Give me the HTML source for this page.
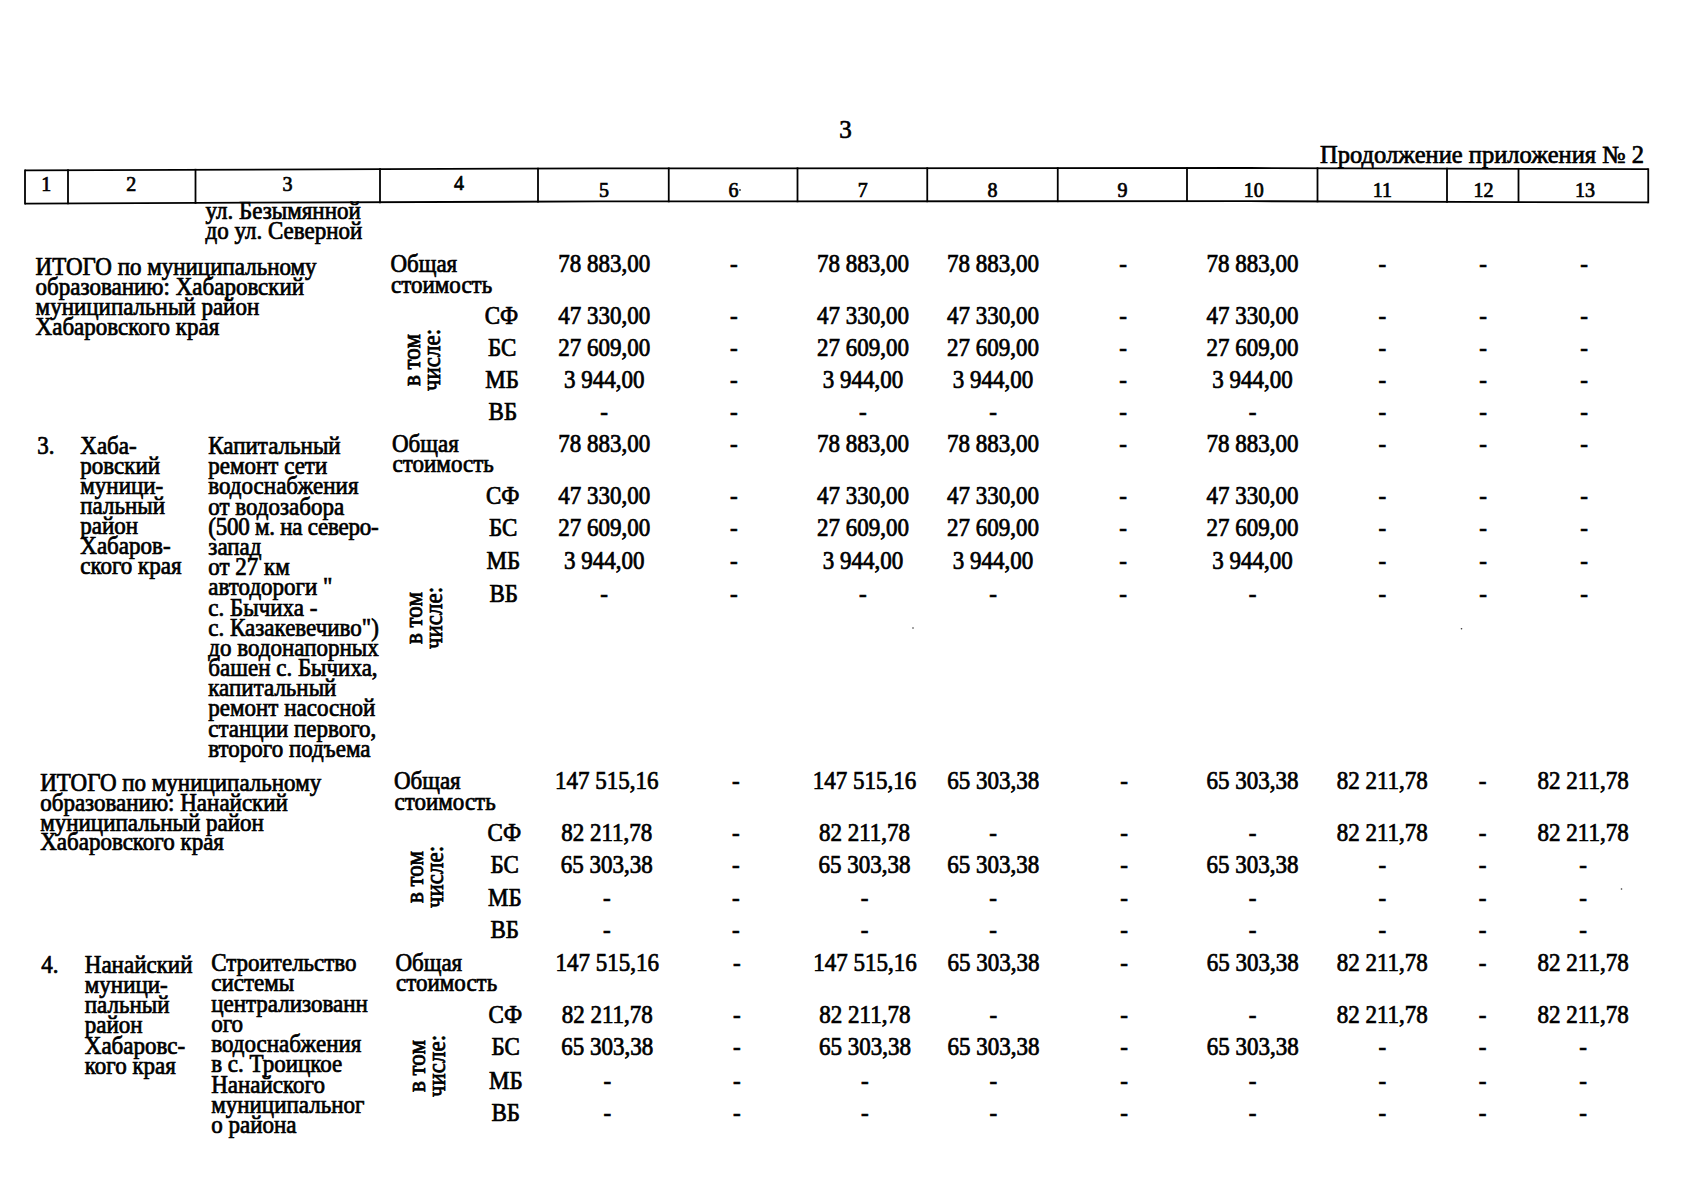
<!DOCTYPE html>
<html><head><meta charset="utf-8"><title>Продолжение приложения № 2</title><style>
html,body{margin:0;padding:0;background:#fff;}
body{width:1704px;height:1200px;position:relative;overflow:hidden;}
.t{position:absolute;font-family:"Liberation Serif",serif;line-height:23px;white-space:pre;color:#000;
   -webkit-text-stroke:0.7px #000;transform:scaleY(1.06);}
.c{text-align:center;}
.ns{transform:none;}
.rot{text-align:center;line-height:19px;transform:rotate(-90deg) scaleY(1.06);}
</style></head>
<body>
<svg width="1704" height="1200" style="position:absolute;left:0;top:0"><polyline points="25,170.30 600,168.40 1250,168.00 1648.25,169.20" fill="none" stroke="#000" stroke-width="1.8"/><polyline points="25,203.60 600,201.40 1250,201.20 1648.25,202.40" fill="none" stroke="#000" stroke-width="1.8"/><line x1="25" y1="169.40" x2="25" y2="204.50" stroke="#000" stroke-width="1.8"/><line x1="68" y1="169.26" x2="68" y2="204.34" stroke="#000" stroke-width="1.8"/><line x1="195.5" y1="168.84" x2="195.5" y2="203.85" stroke="#000" stroke-width="1.8"/><line x1="380" y1="168.23" x2="380" y2="203.14" stroke="#000" stroke-width="1.8"/><line x1="538" y1="167.70" x2="538" y2="202.54" stroke="#000" stroke-width="1.8"/><line x1="668.75" y1="167.46" x2="668.75" y2="202.28" stroke="#000" stroke-width="1.8"/><line x1="797.5" y1="167.38" x2="797.5" y2="202.24" stroke="#000" stroke-width="1.8"/><line x1="927.25" y1="167.30" x2="927.25" y2="202.20" stroke="#000" stroke-width="1.8"/><line x1="1057.75" y1="167.22" x2="1057.75" y2="202.16" stroke="#000" stroke-width="1.8"/><line x1="1187" y1="167.14" x2="1187" y2="202.12" stroke="#000" stroke-width="1.8"/><line x1="1317.5" y1="167.30" x2="1317.5" y2="202.30" stroke="#000" stroke-width="1.8"/><line x1="1447" y1="167.69" x2="1447" y2="202.69" stroke="#000" stroke-width="1.8"/><line x1="1518.5" y1="167.91" x2="1518.5" y2="202.91" stroke="#000" stroke-width="1.8"/><line x1="1648.25" y1="168.30" x2="1648.25" y2="203.30" stroke="#000" stroke-width="1.8"/><circle cx="913" cy="628" r="0.8" fill="#333"/><circle cx="1461.5" cy="628.7" r="0.8" fill="#333"/><circle cx="1621.5" cy="889" r="0.8" fill="#333"/><circle cx="740" cy="190" r="0.9" fill="#333"/></svg>
<div class="t ns c" style="left:745.5px;top:117.2px;width:200px;font-size:25px;line-height:25px;transform-origin:0 20.6px">3</div>
<div class="t ns" style="left:1320.0px;top:142.8px;font-size:24.5px;line-height:24.5px;transform-origin:0 20.2px">Продолжение приложения № 2</div>
<div class="t ns c" style="left:-53.8px;top:174.3px;width:200px;font-size:20px;line-height:20px;transform-origin:0 16.5px">1</div>
<div class="t ns c" style="left:31.3px;top:173.8px;width:200px;font-size:20px;line-height:20px;transform-origin:0 16.5px">2</div>
<div class="t ns c" style="left:187.5px;top:173.8px;width:200px;font-size:20px;line-height:20px;transform-origin:0 16.5px">3</div>
<div class="t ns c" style="left:359.0px;top:172.8px;width:200px;font-size:20px;line-height:20px;transform-origin:0 16.5px">4</div>
<div class="t ns c" style="left:503.9px;top:180.3px;width:200px;font-size:20px;line-height:20px;transform-origin:0 16.5px">5</div>
<div class="t ns c" style="left:633.4px;top:180.3px;width:200px;font-size:20px;line-height:20px;transform-origin:0 16.5px">6</div>
<div class="t ns c" style="left:762.8px;top:180.3px;width:200px;font-size:20px;line-height:20px;transform-origin:0 16.5px">7</div>
<div class="t ns c" style="left:892.6px;top:180.3px;width:200px;font-size:20px;line-height:20px;transform-origin:0 16.5px">8</div>
<div class="t ns c" style="left:1022.5px;top:180.3px;width:200px;font-size:20px;line-height:20px;transform-origin:0 16.5px">9</div>
<div class="t ns c" style="left:1153.7px;top:180.4px;width:200px;font-size:20px;line-height:20px;transform-origin:0 16.5px">10</div>
<div class="t ns c" style="left:1282.4px;top:180.3px;width:200px;font-size:20px;line-height:20px;transform-origin:0 16.5px">11</div>
<div class="t ns c" style="left:1383.6px;top:180.3px;width:200px;font-size:20px;line-height:20px;transform-origin:0 16.5px">12</div>
<div class="t ns c" style="left:1484.9px;top:180.3px;width:200px;font-size:20px;line-height:20px;transform-origin:0 16.5px">13</div>
<div class="t" style="left:205.5px;top:200.4px;font-size:23px;line-height:23px;transform-origin:0 19.0px">ул. Безымянной</div>
<div class="t" style="left:205.5px;top:220.4px;font-size:23px;line-height:23px;transform-origin:0 19.0px">до ул. Северной</div>
<div class="t" style="left:35.6px;top:255.5px;font-size:23px;line-height:23px;transform-origin:0 19.0px">ИТОГО по муниципальному</div>
<div class="t" style="left:35.6px;top:275.5px;font-size:23px;line-height:23px;transform-origin:0 19.0px">образованию: Хабаровский</div>
<div class="t" style="left:35.6px;top:295.5px;font-size:23px;line-height:23px;transform-origin:0 19.0px">муниципальный район</div>
<div class="t" style="left:35.6px;top:315.5px;font-size:23px;line-height:23px;transform-origin:0 19.0px">Хабаровского края</div>
<div class="t" style="left:390.4px;top:253.4px;font-size:23px;line-height:23px;transform-origin:0 19.0px">Общая</div>
<div class="t" style="left:391.0px;top:273.5px;font-size:23px;line-height:23px;transform-origin:0 19.0px">стоимость</div>
<div class="t" style="left:484.7px;top:305.4px;font-size:23px;line-height:23px;transform-origin:0 19.0px">СФ</div>
<div class="t" style="left:488.0px;top:337.4px;font-size:23px;line-height:23px;transform-origin:0 19.0px">БС</div>
<div class="t" style="left:485.3px;top:369.1px;font-size:23px;line-height:23px;transform-origin:0 19.0px">МБ</div>
<div class="t" style="left:488.6px;top:401.4px;font-size:23px;line-height:23px;transform-origin:0 19.0px">ВБ</div>
<div class="t rot" style="left:363.0px;top:340.0px;width:120px;height:40px;font-size:23px">в том<br>числе:</div>
<div class="t c" style="left:504.2px;top:253.4px;width:200px;font-size:23px;line-height:23px;transform-origin:0 19.0px">78 883,00</div>
<div class="t c" style="left:633.8px;top:253.4px;width:200px;font-size:23px;line-height:23px;transform-origin:0 19.0px">-</div>
<div class="t c" style="left:762.9px;top:253.4px;width:200px;font-size:23px;line-height:23px;transform-origin:0 19.0px">78 883,00</div>
<div class="t c" style="left:893.0px;top:253.4px;width:200px;font-size:23px;line-height:23px;transform-origin:0 19.0px">78 883,00</div>
<div class="t c" style="left:1023.2px;top:253.4px;width:200px;font-size:23px;line-height:23px;transform-origin:0 19.0px">-</div>
<div class="t c" style="left:1152.5px;top:253.4px;width:200px;font-size:23px;line-height:23px;transform-origin:0 19.0px">78 883,00</div>
<div class="t c" style="left:1282.3px;top:253.4px;width:200px;font-size:23px;line-height:23px;transform-origin:0 19.0px">-</div>
<div class="t c" style="left:1383.0px;top:253.4px;width:200px;font-size:23px;line-height:23px;transform-origin:0 19.0px">-</div>
<div class="t c" style="left:1484.0px;top:253.4px;width:200px;font-size:23px;line-height:23px;transform-origin:0 19.0px">-</div>
<div class="t c" style="left:504.2px;top:305.4px;width:200px;font-size:23px;line-height:23px;transform-origin:0 19.0px">47 330,00</div>
<div class="t c" style="left:633.8px;top:305.4px;width:200px;font-size:23px;line-height:23px;transform-origin:0 19.0px">-</div>
<div class="t c" style="left:762.9px;top:305.4px;width:200px;font-size:23px;line-height:23px;transform-origin:0 19.0px">47 330,00</div>
<div class="t c" style="left:893.0px;top:305.4px;width:200px;font-size:23px;line-height:23px;transform-origin:0 19.0px">47 330,00</div>
<div class="t c" style="left:1023.2px;top:305.4px;width:200px;font-size:23px;line-height:23px;transform-origin:0 19.0px">-</div>
<div class="t c" style="left:1152.5px;top:305.4px;width:200px;font-size:23px;line-height:23px;transform-origin:0 19.0px">47 330,00</div>
<div class="t c" style="left:1282.3px;top:305.4px;width:200px;font-size:23px;line-height:23px;transform-origin:0 19.0px">-</div>
<div class="t c" style="left:1383.0px;top:305.4px;width:200px;font-size:23px;line-height:23px;transform-origin:0 19.0px">-</div>
<div class="t c" style="left:1484.0px;top:305.4px;width:200px;font-size:23px;line-height:23px;transform-origin:0 19.0px">-</div>
<div class="t c" style="left:504.2px;top:337.4px;width:200px;font-size:23px;line-height:23px;transform-origin:0 19.0px">27 609,00</div>
<div class="t c" style="left:633.8px;top:337.4px;width:200px;font-size:23px;line-height:23px;transform-origin:0 19.0px">-</div>
<div class="t c" style="left:762.9px;top:337.4px;width:200px;font-size:23px;line-height:23px;transform-origin:0 19.0px">27 609,00</div>
<div class="t c" style="left:893.0px;top:337.4px;width:200px;font-size:23px;line-height:23px;transform-origin:0 19.0px">27 609,00</div>
<div class="t c" style="left:1023.2px;top:337.4px;width:200px;font-size:23px;line-height:23px;transform-origin:0 19.0px">-</div>
<div class="t c" style="left:1152.5px;top:337.4px;width:200px;font-size:23px;line-height:23px;transform-origin:0 19.0px">27 609,00</div>
<div class="t c" style="left:1282.3px;top:337.4px;width:200px;font-size:23px;line-height:23px;transform-origin:0 19.0px">-</div>
<div class="t c" style="left:1383.0px;top:337.4px;width:200px;font-size:23px;line-height:23px;transform-origin:0 19.0px">-</div>
<div class="t c" style="left:1484.0px;top:337.4px;width:200px;font-size:23px;line-height:23px;transform-origin:0 19.0px">-</div>
<div class="t c" style="left:504.2px;top:369.1px;width:200px;font-size:23px;line-height:23px;transform-origin:0 19.0px">3 944,00</div>
<div class="t c" style="left:633.8px;top:369.1px;width:200px;font-size:23px;line-height:23px;transform-origin:0 19.0px">-</div>
<div class="t c" style="left:762.9px;top:369.1px;width:200px;font-size:23px;line-height:23px;transform-origin:0 19.0px">3 944,00</div>
<div class="t c" style="left:893.0px;top:369.1px;width:200px;font-size:23px;line-height:23px;transform-origin:0 19.0px">3 944,00</div>
<div class="t c" style="left:1023.2px;top:369.1px;width:200px;font-size:23px;line-height:23px;transform-origin:0 19.0px">-</div>
<div class="t c" style="left:1152.5px;top:369.1px;width:200px;font-size:23px;line-height:23px;transform-origin:0 19.0px">3 944,00</div>
<div class="t c" style="left:1282.3px;top:369.1px;width:200px;font-size:23px;line-height:23px;transform-origin:0 19.0px">-</div>
<div class="t c" style="left:1383.0px;top:369.1px;width:200px;font-size:23px;line-height:23px;transform-origin:0 19.0px">-</div>
<div class="t c" style="left:1484.0px;top:369.1px;width:200px;font-size:23px;line-height:23px;transform-origin:0 19.0px">-</div>
<div class="t c" style="left:504.2px;top:401.4px;width:200px;font-size:23px;line-height:23px;transform-origin:0 19.0px">-</div>
<div class="t c" style="left:633.8px;top:401.4px;width:200px;font-size:23px;line-height:23px;transform-origin:0 19.0px">-</div>
<div class="t c" style="left:762.9px;top:401.4px;width:200px;font-size:23px;line-height:23px;transform-origin:0 19.0px">-</div>
<div class="t c" style="left:893.0px;top:401.4px;width:200px;font-size:23px;line-height:23px;transform-origin:0 19.0px">-</div>
<div class="t c" style="left:1023.2px;top:401.4px;width:200px;font-size:23px;line-height:23px;transform-origin:0 19.0px">-</div>
<div class="t c" style="left:1152.5px;top:401.4px;width:200px;font-size:23px;line-height:23px;transform-origin:0 19.0px">-</div>
<div class="t c" style="left:1282.3px;top:401.4px;width:200px;font-size:23px;line-height:23px;transform-origin:0 19.0px">-</div>
<div class="t c" style="left:1383.0px;top:401.4px;width:200px;font-size:23px;line-height:23px;transform-origin:0 19.0px">-</div>
<div class="t c" style="left:1484.0px;top:401.4px;width:200px;font-size:23px;line-height:23px;transform-origin:0 19.0px">-</div>
<div class="t" style="left:37.3px;top:435.1px;font-size:23px;line-height:23px;transform-origin:0 19.0px">3.</div>
<div class="t" style="left:80.3px;top:435.1px;font-size:23px;line-height:23px;transform-origin:0 19.0px">Хаба-</div>
<div class="t" style="left:80.3px;top:455.1px;font-size:23px;line-height:23px;transform-origin:0 19.0px">ровский</div>
<div class="t" style="left:80.3px;top:475.0px;font-size:23px;line-height:23px;transform-origin:0 19.0px">муници-</div>
<div class="t" style="left:80.3px;top:495.0px;font-size:23px;line-height:23px;transform-origin:0 19.0px">пальный</div>
<div class="t" style="left:80.3px;top:515.0px;font-size:23px;line-height:23px;transform-origin:0 19.0px">район</div>
<div class="t" style="left:80.3px;top:535.0px;font-size:23px;line-height:23px;transform-origin:0 19.0px">Хабаров-</div>
<div class="t" style="left:80.3px;top:554.9px;font-size:23px;line-height:23px;transform-origin:0 19.0px">ского края</div>
<div class="t" style="left:208.3px;top:435.1px;font-size:23px;line-height:23px;transform-origin:0 19.0px">Капитальный</div>
<div class="t" style="left:208.3px;top:455.3px;font-size:23px;line-height:23px;transform-origin:0 19.0px">ремонт сети</div>
<div class="t" style="left:208.3px;top:475.4px;font-size:23px;line-height:23px;transform-origin:0 19.0px">водоснабжения</div>
<div class="t" style="left:208.3px;top:495.6px;font-size:23px;line-height:23px;transform-origin:0 19.0px">от водозабора</div>
<div class="t" style="left:208.3px;top:515.8px;font-size:23px;line-height:23px;transform-origin:0 19.0px;letter-spacing:-0.25px">(500 м. на северо-</div>
<div class="t" style="left:208.3px;top:536.0px;font-size:23px;line-height:23px;transform-origin:0 19.0px">запад</div>
<div class="t" style="left:208.3px;top:556.1px;font-size:23px;line-height:23px;transform-origin:0 19.0px">от 27 км</div>
<div class="t" style="left:208.3px;top:576.3px;font-size:23px;line-height:23px;transform-origin:0 19.0px">автодороги "</div>
<div class="t" style="left:208.3px;top:596.5px;font-size:23px;line-height:23px;transform-origin:0 19.0px">с. Бычиха -</div>
<div class="t" style="left:208.3px;top:616.6px;font-size:23px;line-height:23px;transform-origin:0 19.0px">с. Казакевечиво")</div>
<div class="t" style="left:208.3px;top:636.8px;font-size:23px;line-height:23px;transform-origin:0 19.0px">до водонапорных</div>
<div class="t" style="left:208.3px;top:657.0px;font-size:23px;line-height:23px;transform-origin:0 19.0px">башен с. Бычиха,</div>
<div class="t" style="left:208.3px;top:677.1px;font-size:23px;line-height:23px;transform-origin:0 19.0px">капитальный</div>
<div class="t" style="left:208.3px;top:697.3px;font-size:23px;line-height:23px;transform-origin:0 19.0px">ремонт насосной</div>
<div class="t" style="left:208.3px;top:717.5px;font-size:23px;line-height:23px;transform-origin:0 19.0px">станции первого,</div>
<div class="t" style="left:208.3px;top:737.7px;font-size:23px;line-height:23px;transform-origin:0 19.0px">второго подъема</div>
<div class="t" style="left:392.0px;top:432.8px;font-size:23px;line-height:23px;transform-origin:0 19.0px">Общая</div>
<div class="t" style="left:392.6px;top:452.9px;font-size:23px;line-height:23px;transform-origin:0 19.0px">стоимость</div>
<div class="t" style="left:486.0px;top:485.2px;font-size:23px;line-height:23px;transform-origin:0 19.0px">СФ</div>
<div class="t" style="left:489.0px;top:516.9px;font-size:23px;line-height:23px;transform-origin:0 19.0px">БС</div>
<div class="t" style="left:486.5px;top:549.9px;font-size:23px;line-height:23px;transform-origin:0 19.0px">МБ</div>
<div class="t" style="left:489.5px;top:582.6px;font-size:23px;line-height:23px;transform-origin:0 19.0px">ВБ</div>
<div class="t rot" style="left:365.2px;top:598.3px;width:120px;height:40px;font-size:23px">в том<br>числе:</div>
<div class="t c" style="left:504.2px;top:432.8px;width:200px;font-size:23px;line-height:23px;transform-origin:0 19.0px">78 883,00</div>
<div class="t c" style="left:633.8px;top:432.8px;width:200px;font-size:23px;line-height:23px;transform-origin:0 19.0px">-</div>
<div class="t c" style="left:762.9px;top:432.8px;width:200px;font-size:23px;line-height:23px;transform-origin:0 19.0px">78 883,00</div>
<div class="t c" style="left:893.0px;top:432.8px;width:200px;font-size:23px;line-height:23px;transform-origin:0 19.0px">78 883,00</div>
<div class="t c" style="left:1023.2px;top:432.8px;width:200px;font-size:23px;line-height:23px;transform-origin:0 19.0px">-</div>
<div class="t c" style="left:1152.5px;top:432.8px;width:200px;font-size:23px;line-height:23px;transform-origin:0 19.0px">78 883,00</div>
<div class="t c" style="left:1282.3px;top:432.8px;width:200px;font-size:23px;line-height:23px;transform-origin:0 19.0px">-</div>
<div class="t c" style="left:1383.0px;top:432.8px;width:200px;font-size:23px;line-height:23px;transform-origin:0 19.0px">-</div>
<div class="t c" style="left:1484.0px;top:432.8px;width:200px;font-size:23px;line-height:23px;transform-origin:0 19.0px">-</div>
<div class="t c" style="left:504.2px;top:485.2px;width:200px;font-size:23px;line-height:23px;transform-origin:0 19.0px">47 330,00</div>
<div class="t c" style="left:633.8px;top:485.2px;width:200px;font-size:23px;line-height:23px;transform-origin:0 19.0px">-</div>
<div class="t c" style="left:762.9px;top:485.2px;width:200px;font-size:23px;line-height:23px;transform-origin:0 19.0px">47 330,00</div>
<div class="t c" style="left:893.0px;top:485.2px;width:200px;font-size:23px;line-height:23px;transform-origin:0 19.0px">47 330,00</div>
<div class="t c" style="left:1023.2px;top:485.2px;width:200px;font-size:23px;line-height:23px;transform-origin:0 19.0px">-</div>
<div class="t c" style="left:1152.5px;top:485.2px;width:200px;font-size:23px;line-height:23px;transform-origin:0 19.0px">47 330,00</div>
<div class="t c" style="left:1282.3px;top:485.2px;width:200px;font-size:23px;line-height:23px;transform-origin:0 19.0px">-</div>
<div class="t c" style="left:1383.0px;top:485.2px;width:200px;font-size:23px;line-height:23px;transform-origin:0 19.0px">-</div>
<div class="t c" style="left:1484.0px;top:485.2px;width:200px;font-size:23px;line-height:23px;transform-origin:0 19.0px">-</div>
<div class="t c" style="left:504.2px;top:516.9px;width:200px;font-size:23px;line-height:23px;transform-origin:0 19.0px">27 609,00</div>
<div class="t c" style="left:633.8px;top:516.9px;width:200px;font-size:23px;line-height:23px;transform-origin:0 19.0px">-</div>
<div class="t c" style="left:762.9px;top:516.9px;width:200px;font-size:23px;line-height:23px;transform-origin:0 19.0px">27 609,00</div>
<div class="t c" style="left:893.0px;top:516.9px;width:200px;font-size:23px;line-height:23px;transform-origin:0 19.0px">27 609,00</div>
<div class="t c" style="left:1023.2px;top:516.9px;width:200px;font-size:23px;line-height:23px;transform-origin:0 19.0px">-</div>
<div class="t c" style="left:1152.5px;top:516.9px;width:200px;font-size:23px;line-height:23px;transform-origin:0 19.0px">27 609,00</div>
<div class="t c" style="left:1282.3px;top:516.9px;width:200px;font-size:23px;line-height:23px;transform-origin:0 19.0px">-</div>
<div class="t c" style="left:1383.0px;top:516.9px;width:200px;font-size:23px;line-height:23px;transform-origin:0 19.0px">-</div>
<div class="t c" style="left:1484.0px;top:516.9px;width:200px;font-size:23px;line-height:23px;transform-origin:0 19.0px">-</div>
<div class="t c" style="left:504.2px;top:549.9px;width:200px;font-size:23px;line-height:23px;transform-origin:0 19.0px">3 944,00</div>
<div class="t c" style="left:633.8px;top:549.9px;width:200px;font-size:23px;line-height:23px;transform-origin:0 19.0px">-</div>
<div class="t c" style="left:762.9px;top:549.9px;width:200px;font-size:23px;line-height:23px;transform-origin:0 19.0px">3 944,00</div>
<div class="t c" style="left:893.0px;top:549.9px;width:200px;font-size:23px;line-height:23px;transform-origin:0 19.0px">3 944,00</div>
<div class="t c" style="left:1023.2px;top:549.9px;width:200px;font-size:23px;line-height:23px;transform-origin:0 19.0px">-</div>
<div class="t c" style="left:1152.5px;top:549.9px;width:200px;font-size:23px;line-height:23px;transform-origin:0 19.0px">3 944,00</div>
<div class="t c" style="left:1282.3px;top:549.9px;width:200px;font-size:23px;line-height:23px;transform-origin:0 19.0px">-</div>
<div class="t c" style="left:1383.0px;top:549.9px;width:200px;font-size:23px;line-height:23px;transform-origin:0 19.0px">-</div>
<div class="t c" style="left:1484.0px;top:549.9px;width:200px;font-size:23px;line-height:23px;transform-origin:0 19.0px">-</div>
<div class="t c" style="left:504.2px;top:582.6px;width:200px;font-size:23px;line-height:23px;transform-origin:0 19.0px">-</div>
<div class="t c" style="left:633.8px;top:582.6px;width:200px;font-size:23px;line-height:23px;transform-origin:0 19.0px">-</div>
<div class="t c" style="left:762.9px;top:582.6px;width:200px;font-size:23px;line-height:23px;transform-origin:0 19.0px">-</div>
<div class="t c" style="left:893.0px;top:582.6px;width:200px;font-size:23px;line-height:23px;transform-origin:0 19.0px">-</div>
<div class="t c" style="left:1023.2px;top:582.6px;width:200px;font-size:23px;line-height:23px;transform-origin:0 19.0px">-</div>
<div class="t c" style="left:1152.5px;top:582.6px;width:200px;font-size:23px;line-height:23px;transform-origin:0 19.0px">-</div>
<div class="t c" style="left:1282.3px;top:582.6px;width:200px;font-size:23px;line-height:23px;transform-origin:0 19.0px">-</div>
<div class="t c" style="left:1383.0px;top:582.6px;width:200px;font-size:23px;line-height:23px;transform-origin:0 19.0px">-</div>
<div class="t c" style="left:1484.0px;top:582.6px;width:200px;font-size:23px;line-height:23px;transform-origin:0 19.0px">-</div>
<div class="t" style="left:40.2px;top:771.7px;font-size:23px;line-height:23px;transform-origin:0 19.0px">ИТОГО по муниципальному</div>
<div class="t" style="left:40.2px;top:791.6px;font-size:23px;line-height:23px;transform-origin:0 19.0px">образованию: Нанайский</div>
<div class="t" style="left:40.2px;top:811.5px;font-size:23px;line-height:23px;transform-origin:0 19.0px">муниципальный район</div>
<div class="t" style="left:40.2px;top:831.4px;font-size:23px;line-height:23px;transform-origin:0 19.0px">Хабаровского края</div>
<div class="t" style="left:393.9px;top:770.4px;font-size:23px;line-height:23px;transform-origin:0 19.0px">Общая</div>
<div class="t" style="left:394.5px;top:790.5px;font-size:23px;line-height:23px;transform-origin:0 19.0px">стоимость</div>
<div class="t" style="left:487.6px;top:822.2px;font-size:23px;line-height:23px;transform-origin:0 19.0px">СФ</div>
<div class="t" style="left:490.5px;top:853.9px;font-size:23px;line-height:23px;transform-origin:0 19.0px">БС</div>
<div class="t" style="left:488.0px;top:887.4px;font-size:23px;line-height:23px;transform-origin:0 19.0px">МБ</div>
<div class="t" style="left:490.5px;top:918.8px;font-size:23px;line-height:23px;transform-origin:0 19.0px">ВБ</div>
<div class="t rot" style="left:366.3px;top:857.3px;width:120px;height:40px;font-size:23px">в том<br>числе:</div>
<div class="t c" style="left:506.8px;top:770.4px;width:200px;font-size:23px;line-height:23px;transform-origin:0 19.0px">147 515,16</div>
<div class="t c" style="left:635.9px;top:770.4px;width:200px;font-size:23px;line-height:23px;transform-origin:0 19.0px">-</div>
<div class="t c" style="left:764.5px;top:770.4px;width:200px;font-size:23px;line-height:23px;transform-origin:0 19.0px">147 515,16</div>
<div class="t c" style="left:893.2px;top:770.4px;width:200px;font-size:23px;line-height:23px;transform-origin:0 19.0px">65 303,38</div>
<div class="t c" style="left:1024.2px;top:770.4px;width:200px;font-size:23px;line-height:23px;transform-origin:0 19.0px">-</div>
<div class="t c" style="left:1152.5px;top:770.4px;width:200px;font-size:23px;line-height:23px;transform-origin:0 19.0px">65 303,38</div>
<div class="t c" style="left:1282.3px;top:770.4px;width:200px;font-size:23px;line-height:23px;transform-origin:0 19.0px">82 211,78</div>
<div class="t c" style="left:1382.5px;top:770.4px;width:200px;font-size:23px;line-height:23px;transform-origin:0 19.0px">-</div>
<div class="t c" style="left:1483.1px;top:770.4px;width:200px;font-size:23px;line-height:23px;transform-origin:0 19.0px">82 211,78</div>
<div class="t c" style="left:506.8px;top:822.2px;width:200px;font-size:23px;line-height:23px;transform-origin:0 19.0px">82 211,78</div>
<div class="t c" style="left:635.9px;top:822.2px;width:200px;font-size:23px;line-height:23px;transform-origin:0 19.0px">-</div>
<div class="t c" style="left:764.5px;top:822.2px;width:200px;font-size:23px;line-height:23px;transform-origin:0 19.0px">82 211,78</div>
<div class="t c" style="left:893.2px;top:822.2px;width:200px;font-size:23px;line-height:23px;transform-origin:0 19.0px">-</div>
<div class="t c" style="left:1024.2px;top:822.2px;width:200px;font-size:23px;line-height:23px;transform-origin:0 19.0px">-</div>
<div class="t c" style="left:1152.5px;top:822.2px;width:200px;font-size:23px;line-height:23px;transform-origin:0 19.0px">-</div>
<div class="t c" style="left:1282.3px;top:822.2px;width:200px;font-size:23px;line-height:23px;transform-origin:0 19.0px">82 211,78</div>
<div class="t c" style="left:1382.5px;top:822.2px;width:200px;font-size:23px;line-height:23px;transform-origin:0 19.0px">-</div>
<div class="t c" style="left:1483.1px;top:822.2px;width:200px;font-size:23px;line-height:23px;transform-origin:0 19.0px">82 211,78</div>
<div class="t c" style="left:506.8px;top:853.9px;width:200px;font-size:23px;line-height:23px;transform-origin:0 19.0px">65 303,38</div>
<div class="t c" style="left:635.9px;top:853.9px;width:200px;font-size:23px;line-height:23px;transform-origin:0 19.0px">-</div>
<div class="t c" style="left:764.5px;top:853.9px;width:200px;font-size:23px;line-height:23px;transform-origin:0 19.0px">65 303,38</div>
<div class="t c" style="left:893.2px;top:853.9px;width:200px;font-size:23px;line-height:23px;transform-origin:0 19.0px">65 303,38</div>
<div class="t c" style="left:1024.2px;top:853.9px;width:200px;font-size:23px;line-height:23px;transform-origin:0 19.0px">-</div>
<div class="t c" style="left:1152.5px;top:853.9px;width:200px;font-size:23px;line-height:23px;transform-origin:0 19.0px">65 303,38</div>
<div class="t c" style="left:1282.3px;top:853.9px;width:200px;font-size:23px;line-height:23px;transform-origin:0 19.0px">-</div>
<div class="t c" style="left:1382.5px;top:853.9px;width:200px;font-size:23px;line-height:23px;transform-origin:0 19.0px">-</div>
<div class="t c" style="left:1483.1px;top:853.9px;width:200px;font-size:23px;line-height:23px;transform-origin:0 19.0px">-</div>
<div class="t c" style="left:506.8px;top:887.4px;width:200px;font-size:23px;line-height:23px;transform-origin:0 19.0px">-</div>
<div class="t c" style="left:635.9px;top:887.4px;width:200px;font-size:23px;line-height:23px;transform-origin:0 19.0px">-</div>
<div class="t c" style="left:764.5px;top:887.4px;width:200px;font-size:23px;line-height:23px;transform-origin:0 19.0px">-</div>
<div class="t c" style="left:893.2px;top:887.4px;width:200px;font-size:23px;line-height:23px;transform-origin:0 19.0px">-</div>
<div class="t c" style="left:1024.2px;top:887.4px;width:200px;font-size:23px;line-height:23px;transform-origin:0 19.0px">-</div>
<div class="t c" style="left:1152.5px;top:887.4px;width:200px;font-size:23px;line-height:23px;transform-origin:0 19.0px">-</div>
<div class="t c" style="left:1282.3px;top:887.4px;width:200px;font-size:23px;line-height:23px;transform-origin:0 19.0px">-</div>
<div class="t c" style="left:1382.5px;top:887.4px;width:200px;font-size:23px;line-height:23px;transform-origin:0 19.0px">-</div>
<div class="t c" style="left:1483.1px;top:887.4px;width:200px;font-size:23px;line-height:23px;transform-origin:0 19.0px">-</div>
<div class="t c" style="left:506.8px;top:918.8px;width:200px;font-size:23px;line-height:23px;transform-origin:0 19.0px">-</div>
<div class="t c" style="left:635.9px;top:918.8px;width:200px;font-size:23px;line-height:23px;transform-origin:0 19.0px">-</div>
<div class="t c" style="left:764.5px;top:918.8px;width:200px;font-size:23px;line-height:23px;transform-origin:0 19.0px">-</div>
<div class="t c" style="left:893.2px;top:918.8px;width:200px;font-size:23px;line-height:23px;transform-origin:0 19.0px">-</div>
<div class="t c" style="left:1024.2px;top:918.8px;width:200px;font-size:23px;line-height:23px;transform-origin:0 19.0px">-</div>
<div class="t c" style="left:1152.5px;top:918.8px;width:200px;font-size:23px;line-height:23px;transform-origin:0 19.0px">-</div>
<div class="t c" style="left:1282.3px;top:918.8px;width:200px;font-size:23px;line-height:23px;transform-origin:0 19.0px">-</div>
<div class="t c" style="left:1382.5px;top:918.8px;width:200px;font-size:23px;line-height:23px;transform-origin:0 19.0px">-</div>
<div class="t c" style="left:1483.1px;top:918.8px;width:200px;font-size:23px;line-height:23px;transform-origin:0 19.0px">-</div>
<div class="t" style="left:41.3px;top:953.8px;font-size:23px;line-height:23px;transform-origin:0 19.0px">4.</div>
<div class="t" style="left:84.8px;top:953.8px;font-size:23px;line-height:23px;transform-origin:0 19.0px">Нанайский</div>
<div class="t" style="left:84.8px;top:974.0px;font-size:23px;line-height:23px;transform-origin:0 19.0px">муници-</div>
<div class="t" style="left:84.8px;top:994.2px;font-size:23px;line-height:23px;transform-origin:0 19.0px">пальный</div>
<div class="t" style="left:84.8px;top:1014.4px;font-size:23px;line-height:23px;transform-origin:0 19.0px">район</div>
<div class="t" style="left:84.8px;top:1034.6px;font-size:23px;line-height:23px;transform-origin:0 19.0px">Хабаровс-</div>
<div class="t" style="left:84.8px;top:1054.8px;font-size:23px;line-height:23px;transform-origin:0 19.0px">кого края</div>
<div class="t" style="left:211.2px;top:952.2px;font-size:23px;line-height:23px;transform-origin:0 19.0px">Строительство</div>
<div class="t" style="left:211.2px;top:972.4px;font-size:23px;line-height:23px;transform-origin:0 19.0px">системы</div>
<div class="t" style="left:211.2px;top:992.6px;font-size:23px;line-height:23px;transform-origin:0 19.0px">централизованн</div>
<div class="t" style="left:211.2px;top:1012.8px;font-size:23px;line-height:23px;transform-origin:0 19.0px">ого</div>
<div class="t" style="left:211.2px;top:1033.0px;font-size:23px;line-height:23px;transform-origin:0 19.0px">водоснабжения</div>
<div class="t" style="left:211.2px;top:1053.3px;font-size:23px;line-height:23px;transform-origin:0 19.0px">в с. Троицкое</div>
<div class="t" style="left:211.2px;top:1073.5px;font-size:23px;line-height:23px;transform-origin:0 19.0px">Нанайского</div>
<div class="t" style="left:211.2px;top:1093.7px;font-size:23px;line-height:23px;transform-origin:0 19.0px">муниципальног</div>
<div class="t" style="left:211.2px;top:1113.9px;font-size:23px;line-height:23px;transform-origin:0 19.0px">о района</div>
<div class="t" style="left:395.4px;top:951.8px;font-size:23px;line-height:23px;transform-origin:0 19.0px">Общая</div>
<div class="t" style="left:396.0px;top:971.9px;font-size:23px;line-height:23px;transform-origin:0 19.0px">стоимость</div>
<div class="t" style="left:488.6px;top:1004.4px;font-size:23px;line-height:23px;transform-origin:0 19.0px">СФ</div>
<div class="t" style="left:491.5px;top:1036.2px;font-size:23px;line-height:23px;transform-origin:0 19.0px">БС</div>
<div class="t" style="left:489.0px;top:1069.9px;font-size:23px;line-height:23px;transform-origin:0 19.0px">МБ</div>
<div class="t" style="left:491.5px;top:1101.8px;font-size:23px;line-height:23px;transform-origin:0 19.0px">ВБ</div>
<div class="t rot" style="left:367.8px;top:1045.5px;width:120px;height:40px;font-size:23px">в том<br>числе:</div>
<div class="t c" style="left:507.3px;top:951.8px;width:200px;font-size:23px;line-height:23px;transform-origin:0 19.0px">147 515,16</div>
<div class="t c" style="left:636.8px;top:951.8px;width:200px;font-size:23px;line-height:23px;transform-origin:0 19.0px">-</div>
<div class="t c" style="left:764.9px;top:951.8px;width:200px;font-size:23px;line-height:23px;transform-origin:0 19.0px">147 515,16</div>
<div class="t c" style="left:893.4px;top:951.8px;width:200px;font-size:23px;line-height:23px;transform-origin:0 19.0px">65 303,38</div>
<div class="t c" style="left:1024.2px;top:951.8px;width:200px;font-size:23px;line-height:23px;transform-origin:0 19.0px">-</div>
<div class="t c" style="left:1152.7px;top:951.8px;width:200px;font-size:23px;line-height:23px;transform-origin:0 19.0px">65 303,38</div>
<div class="t c" style="left:1282.3px;top:951.8px;width:200px;font-size:23px;line-height:23px;transform-origin:0 19.0px">82 211,78</div>
<div class="t c" style="left:1382.5px;top:951.8px;width:200px;font-size:23px;line-height:23px;transform-origin:0 19.0px">-</div>
<div class="t c" style="left:1483.1px;top:951.8px;width:200px;font-size:23px;line-height:23px;transform-origin:0 19.0px">82 211,78</div>
<div class="t c" style="left:507.3px;top:1004.4px;width:200px;font-size:23px;line-height:23px;transform-origin:0 19.0px">82 211,78</div>
<div class="t c" style="left:636.8px;top:1004.4px;width:200px;font-size:23px;line-height:23px;transform-origin:0 19.0px">-</div>
<div class="t c" style="left:764.9px;top:1004.4px;width:200px;font-size:23px;line-height:23px;transform-origin:0 19.0px">82 211,78</div>
<div class="t c" style="left:893.4px;top:1004.4px;width:200px;font-size:23px;line-height:23px;transform-origin:0 19.0px">-</div>
<div class="t c" style="left:1024.2px;top:1004.4px;width:200px;font-size:23px;line-height:23px;transform-origin:0 19.0px">-</div>
<div class="t c" style="left:1152.7px;top:1004.4px;width:200px;font-size:23px;line-height:23px;transform-origin:0 19.0px">-</div>
<div class="t c" style="left:1282.3px;top:1004.4px;width:200px;font-size:23px;line-height:23px;transform-origin:0 19.0px">82 211,78</div>
<div class="t c" style="left:1382.5px;top:1004.4px;width:200px;font-size:23px;line-height:23px;transform-origin:0 19.0px">-</div>
<div class="t c" style="left:1483.1px;top:1004.4px;width:200px;font-size:23px;line-height:23px;transform-origin:0 19.0px">82 211,78</div>
<div class="t c" style="left:507.3px;top:1036.2px;width:200px;font-size:23px;line-height:23px;transform-origin:0 19.0px">65 303,38</div>
<div class="t c" style="left:636.8px;top:1036.2px;width:200px;font-size:23px;line-height:23px;transform-origin:0 19.0px">-</div>
<div class="t c" style="left:764.9px;top:1036.2px;width:200px;font-size:23px;line-height:23px;transform-origin:0 19.0px">65 303,38</div>
<div class="t c" style="left:893.4px;top:1036.2px;width:200px;font-size:23px;line-height:23px;transform-origin:0 19.0px">65 303,38</div>
<div class="t c" style="left:1024.2px;top:1036.2px;width:200px;font-size:23px;line-height:23px;transform-origin:0 19.0px">-</div>
<div class="t c" style="left:1152.7px;top:1036.2px;width:200px;font-size:23px;line-height:23px;transform-origin:0 19.0px">65 303,38</div>
<div class="t c" style="left:1282.3px;top:1036.2px;width:200px;font-size:23px;line-height:23px;transform-origin:0 19.0px">-</div>
<div class="t c" style="left:1382.5px;top:1036.2px;width:200px;font-size:23px;line-height:23px;transform-origin:0 19.0px">-</div>
<div class="t c" style="left:1483.1px;top:1036.2px;width:200px;font-size:23px;line-height:23px;transform-origin:0 19.0px">-</div>
<div class="t c" style="left:507.3px;top:1069.9px;width:200px;font-size:23px;line-height:23px;transform-origin:0 19.0px">-</div>
<div class="t c" style="left:636.8px;top:1069.9px;width:200px;font-size:23px;line-height:23px;transform-origin:0 19.0px">-</div>
<div class="t c" style="left:764.9px;top:1069.9px;width:200px;font-size:23px;line-height:23px;transform-origin:0 19.0px">-</div>
<div class="t c" style="left:893.4px;top:1069.9px;width:200px;font-size:23px;line-height:23px;transform-origin:0 19.0px">-</div>
<div class="t c" style="left:1024.2px;top:1069.9px;width:200px;font-size:23px;line-height:23px;transform-origin:0 19.0px">-</div>
<div class="t c" style="left:1152.7px;top:1069.9px;width:200px;font-size:23px;line-height:23px;transform-origin:0 19.0px">-</div>
<div class="t c" style="left:1282.3px;top:1069.9px;width:200px;font-size:23px;line-height:23px;transform-origin:0 19.0px">-</div>
<div class="t c" style="left:1382.5px;top:1069.9px;width:200px;font-size:23px;line-height:23px;transform-origin:0 19.0px">-</div>
<div class="t c" style="left:1483.1px;top:1069.9px;width:200px;font-size:23px;line-height:23px;transform-origin:0 19.0px">-</div>
<div class="t c" style="left:507.3px;top:1101.8px;width:200px;font-size:23px;line-height:23px;transform-origin:0 19.0px">-</div>
<div class="t c" style="left:636.8px;top:1101.8px;width:200px;font-size:23px;line-height:23px;transform-origin:0 19.0px">-</div>
<div class="t c" style="left:764.9px;top:1101.8px;width:200px;font-size:23px;line-height:23px;transform-origin:0 19.0px">-</div>
<div class="t c" style="left:893.4px;top:1101.8px;width:200px;font-size:23px;line-height:23px;transform-origin:0 19.0px">-</div>
<div class="t c" style="left:1024.2px;top:1101.8px;width:200px;font-size:23px;line-height:23px;transform-origin:0 19.0px">-</div>
<div class="t c" style="left:1152.7px;top:1101.8px;width:200px;font-size:23px;line-height:23px;transform-origin:0 19.0px">-</div>
<div class="t c" style="left:1282.3px;top:1101.8px;width:200px;font-size:23px;line-height:23px;transform-origin:0 19.0px">-</div>
<div class="t c" style="left:1382.5px;top:1101.8px;width:200px;font-size:23px;line-height:23px;transform-origin:0 19.0px">-</div>
<div class="t c" style="left:1483.1px;top:1101.8px;width:200px;font-size:23px;line-height:23px;transform-origin:0 19.0px">-</div>
</body></html>
